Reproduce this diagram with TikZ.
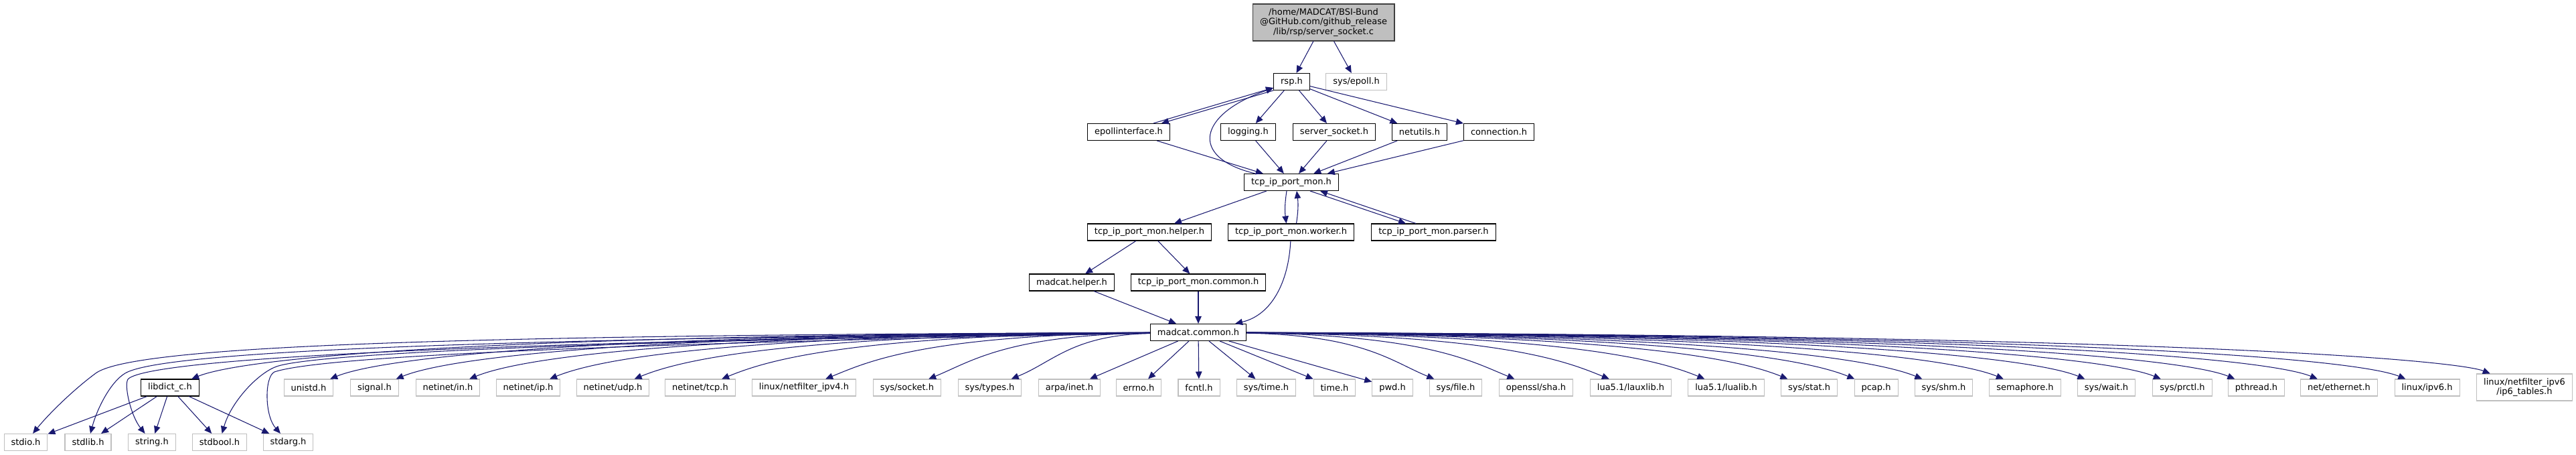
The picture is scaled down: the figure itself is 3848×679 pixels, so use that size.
\documentclass[tikz,border=0pt]{standalone}
\usepackage{fontspec}
\setmainfont{DejaVu Sans}
\usepackage{tikz}
\usetikzlibrary{arrows.meta}
\definecolor{edgeblue}{RGB}{25, 25, 112}
\definecolor{rootgray}{RGB}{191, 191, 191}
\definecolor{sysgray}{RGB}{191, 191, 191}
\definecolor{boxline}{RGB}{64, 64, 64}

\begin{document}
\begin{tikzpicture}[x=0.02cm, y=-0.02cm, >={Triangle[length=0.22cm, width=0.19cm]},
  hdr/.style={draw=black, fill=white, line width=0.6pt, minimum height=0.5cm,
    inner xsep=0.21cm, inner ysep=0pt, font=\fontsize{7.4}{8.4}\selectfont},
  syshdr/.style={hdr, draw=sysgray},
  rootbox/.style={hdr, fill=rootgray, draw=boxline, align=center,
    minimum width=4.24cm, minimum height=1.1cm},
  dep/.style={->, edgeblue, line width=0.6pt}]
  \useasboundingbox (0,0) rectangle (3848,679);

  % The file itself
  \node[rootbox] (main) at (1977,33.5) {/home/MADCAT/BSI-Bund\\@GitHub.com/github\_release\\/lib/rsp/server\_socket.c};

  % Project headers
  \node[hdr] (rsp) at (1929.5,122) {rsp.h};
  \node[syshdr] (epoll) at (2026,122) {sys/epoll.h};
  \node[hdr] (epi) at (1686,197) {epollinterface.h};
  \node[hdr] (logging) at (1864.5,197) {logging.h};
  \node[hdr] (ssock) at (1993,197) {server\_socket.h};
  \node[hdr] (netutils) at (2120.5,197) {netutils.h};
  \node[hdr] (conn) at (2239,197) {connection.h};
  \node[hdr] (tcp) at (1929,272) {tcp\_ip\_port\_mon.h};
  \node[hdr] (helper) at (1717,346.5) {tcp\_ip\_port\_mon.helper.h};
  \node[hdr] (worker) at (1928.5,346.5) {tcp\_ip\_port\_mon.worker.h};
  \node[hdr] (parser) at (2141.5,346.5) {tcp\_ip\_port\_mon.parser.h};
  \node[hdr] (mhelper) at (1601,421.5) {madcat.helper.h};
  \node[hdr] (tcommon) at (1790,421.5) {tcp\_ip\_port\_mon.common.h};
  \node[hdr] (mc) at (1790,496) {madcat.common.h};

  % Headers included by madcat.common.h
  \node[hdr] (libdict) at (254,578.5) {libdict\_c.h};
  \node[syshdr] (unistd) at (461,578.5) {unistd.h};
  \node[syshdr] (signal) at (559.5,578.5) {signal.h};
  \node[syshdr] (netin) at (669,578.5) {netinet/in.h};
  \node[syshdr] (netip) at (789,578.5) {netinet/ip.h};
  \node[syshdr] (netudp) at (915.5,578.5) {netinet/udp.h};
  \node[syshdr] (nettcp) at (1046,578.5) {netinet/tcp.h};
  \node[syshdr] (nfipv4) at (1201,578.5) {linux/netfilter\_ipv4.h};
  \node[syshdr] (syssocket) at (1355,578.5) {sys/socket.h};
  \node[syshdr] (systypes) at (1478.5,578.5) {sys/types.h};
  \node[syshdr] (arpainet) at (1597.5,578.5) {arpa/inet.h};
  \node[syshdr] (errno) at (1701,578.5) {errno.h};
  \node[syshdr] (fcntl) at (1791,578.5) {fcntl.h};
  \node[syshdr] (systime) at (1891.5,578.5) {sys/time.h};
  \node[syshdr] (time) at (1993.5,578.5) {time.h};
  \node[syshdr] (pwd) at (2080,578.5) {pwd.h};
  \node[syshdr] (sysfile) at (2174.5,578.5) {sys/file.h};
  \node[syshdr] (sha) at (2294.5,578.5) {openssl/sha.h};
  \node[syshdr] (lauxlib) at (2436,578.5) {lua5.1/lauxlib.h};
  \node[syshdr] (lualib) at (2578.5,578.5) {lua5.1/lualib.h};
  \node[syshdr] (sysstat) at (2702.5,578.5) {sys/stat.h};
  \node[syshdr] (pcap) at (2802.5,578.5) {pcap.h};
  \node[syshdr] (sysshm) at (2903.5,578.5) {sys/shm.h};
  \node[syshdr] (semaphore) at (3025,578.5) {semaphore.h};
  \node[syshdr] (syswait) at (3146.5,578.5) {sys/wait.h};
  \node[syshdr] (sysprctl) at (3260,578.5) {sys/prctl.h};
  \node[syshdr] (pthread) at (3370.5,578.5) {pthread.h};
  \node[syshdr] (ethernet) at (3494,578.5) {net/ethernet.h};
  \node[syshdr] (ipvsix) at (3625.5,578.5) {linux/ipv6.h};
  \node[syshdr, align=center, minimum height=0.8cm] (ipsixtables) at (3771,578) {linux/netfilter\_ipv6\\/ip6\_tables.h};

  % Bottom row
  \node[syshdr] (stdio) at (38.5,660) {stdio.h};
  \node[syshdr] (stdlib) at (131.5,660) {stdlib.h};
  \node[syshdr] (string) at (227,660) {string.h};
  \node[syshdr] (stdbool) at (328,660) {stdbool.h};
  \node[syshdr] (stdarg) at (430.5,660) {stdarg.h};

  % Upper part
  \draw[dep] (main) -- (rsp);
  \draw[dep] (main) -- (epoll);
  \draw[dep] (rsp.south west) -- ([xshift=-0.26cm]epi.north east);
  \draw[dep] ([xshift=-0.5cm]epi.north east) -- ([yshift=-0.18cm]rsp.west);
  \foreach \n in {logging, ssock, netutils, conn}
    \draw[dep] (rsp) -- (\n);
  \foreach \n in {epi, logging, ssock, netutils, conn}
    \draw[dep] (\n) -- (tcp);
  \draw[dep] (tcp) .. controls (1775,235) and (1790,170) .. (rsp);

  % Around tcp_ip_port_mon.h
  \draw[dep] (tcp) -- (helper);
  \draw[dep] ([xshift=-0.14cm]tcp.south) to[bend right=8] ([xshift=-0.14cm]worker.north);
  \draw[dep] ([xshift=0.16cm]worker.north) to[bend right=8] ([xshift=0.16cm]tcp.south);
  \draw[dep] ([xshift=0.56cm]tcp.south) -- ([xshift=-0.83cm]parser.north);
  \draw[dep] ([xshift=-0.53cm]parser.north) -- ([xshift=0.86cm]tcp.south);
  \draw[dep] (helper) -- (mhelper);
  \draw[dep] (helper) -- (tcommon);
  \draw[dep] (mhelper) -- (mc);
  \draw[dep] (tcommon) -- (mc);
  \draw[dep] (worker) .. controls (1925,420) and (1900,470) .. (mc);

  % Fan out of madcat.common.h
  \foreach \n/\tx in {libdict/254, unistd/461, signal/559.5, netin/669, netip/789,
      netudp/915.5, nettcp/1046, nfipv4/1201, syssocket/1355, systypes/1478.5}
    \draw[dep] (mc) .. controls ({1718-0.8*(1623-\tx)},500) and ({\tx+95},540) .. (\n);
  \foreach \n in {arpainet, errno, fcntl, systime, time, pwd}
    \draw[dep] (mc) -- (\n);
  \foreach \n/\tx in {sysfile/2174.5, sha/2294.5, lauxlib/2436, lualib/2578.5,
      sysstat/2702.5, pcap/2802.5, sysshm/2903.5, semaphore/3025, syswait/3146.5,
      sysprctl/3260, pthread/3370.5, ethernet/3494, ipvsix/3625.5, ipsixtables/3771}
    \draw[dep] (mc) .. controls ({1862+0.8*(\tx-1957)},500) and ({\tx-95},540) .. (\n);

  % Long curves to the bottom row
  \draw[dep] (mc) .. controls (700,500) and (200,515) .. (143,557)
    .. controls (113,579) and (75,615) .. (stdio);
  \draw[dep] (mc) .. controls (700,505) and (240,525) .. (187,557)
    .. controls (165,570) and (145,610) .. (stdlib);
  \draw[dep] (mc) .. controls (700,510) and (230,535) .. (192,565)
    .. controls (184,571) and (195,620) .. (string);
  \draw[dep] (mc) .. controls (800,510) and (460,530) .. (413,547)
    .. controls (385,557) and (345,600) .. (stdbool);
  \draw[dep] (mc) .. controls (800,515) and (470,535) .. (410,555)
    .. controls (395,562) and (395,620) .. (stdarg);

  % libdict_c.h
  \foreach \n in {stdio, stdlib, string, stdbool, stdarg}
    \draw[dep] (libdict) -- (\n);
\end{tikzpicture}
\end{document}
